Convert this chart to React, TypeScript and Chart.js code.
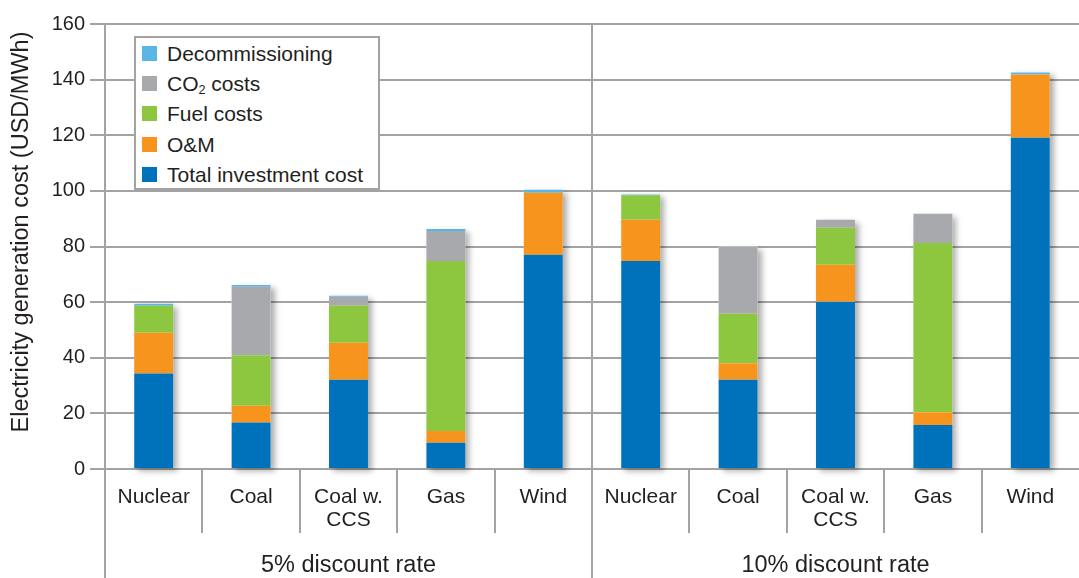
import React, { useEffect, useRef } from 'react';
import { Chart, registerables } from 'chart.js';

Chart.register(...registerables);

// ---- Data ----
const categories: string[][] = [
  ['Nuclear'], ['Coal'], ['Coal w.', 'CCS'], ['Gas'], ['Wind'],
  ['Nuclear'], ['Coal'], ['Coal w.', 'CCS'], ['Gas'], ['Wind'],
];
const groupLabels = ['5% discount rate', '10% discount rate'];
const groupSize = 5;

const investment = [34.3, 16.7, 32.1, 9.4, 77.0, 74.8, 32.1, 60.1, 15.8, 119.1];
const omCosts = [14.7, 6.0, 13.3, 4.3, 22.3, 14.8, 5.9, 13.3, 4.6, 22.7];
const fuelCosts = [9.7, 18.2, 13.3, 61.1, 0, 8.8, 17.8, 13.3, 60.9, 0];
const co2Costs = [0, 24.6, 3.2, 10.8, 0, 0, 24.2, 2.9, 10.5, 0];
const decommissioning = [0.7, 0.7, 0.4, 0.7, 1.1, 0.3, 0, 0, 0, 0.8];

const yMin = 0;
const yMax = 160;
const yStep = 20;
const yTitle = 'Electricity generation cost (USD/MWh)';

// ---- Styles ----
const FONT = '"Liberation Sans", Arial, Helvetica, sans-serif';
const TEXT = '#231f20';
const GRID = '#a3a3a3';
const C_INV = '#0072bc';
const C_OM = '#f7941d';
const C_FUEL = '#8dc63f';
const C_CO2 = '#a7a9ac';
const C_DEC = '#5ab4e5';

const legendItems: { color: string; label: React.ReactNode }[] = [
  { color: C_DEC, label: 'Decommissioning' },
  { color: C_CO2, label: <>CO<sub style={{ fontSize: '0.6em', verticalAlign: '-0.25em', lineHeight: 0 }}>2</sub> costs</> },
  { color: C_FUEL, label: 'Fuel costs' },
  { color: C_OM, label: 'O&M' },
  { color: C_INV, label: 'Total investment cost' },
];

const shadowPlugin = {
  id: 'barShadow',
  beforeDatasetsDraw(chart: any) {
    const ctx = chart.ctx;
    const metas = chart.getSortedVisibleDatasetMetas();
    ctx.save();
    ctx.shadowColor = 'rgba(0,0,0,0.32)';
    ctx.shadowBlur = 6;
    ctx.shadowOffsetX = 4;
    ctx.shadowOffsetY = 3;
    ctx.fillStyle = '#ffffff';
    for (let i = 0; i < categories.length; i++) {
      let top = Infinity;
      let base = -Infinity;
      let x = 0;
      let w = 0;
      metas.forEach((m: any) => {
        const el = m.data[i];
        const v = chart.data.datasets[m.index].data[i];
        if (!el || !v) return;
        top = Math.min(top, el.y, el.base);
        base = Math.max(base, el.y, el.base);
        x = el.x;
        w = el.width;
      });
      if (top < base) ctx.fillRect(x - w / 2, top, w, base - top);
    }
    ctx.restore();
  },
};

const framePlugin = {
  id: 'frame',
  afterDraw(chart: any) {
    const { ctx, chartArea } = chart;
    const x = chart.scales.x;
    const bottom = chart.height;
    const sepLen = 64;
    ctx.save();
    ctx.strokeStyle = GRID;
    ctx.lineWidth = 2;
    const line = (x1: number, y1: number, x2: number, y2: number) => {
      ctx.beginPath();
      ctx.moveTo(x1, y1);
      ctx.lineTo(x2, y2);
      ctx.stroke();
    };
    // y axis line extension
    line(Math.round(chartArea.left), chartArea.top, Math.round(chartArea.left), bottom);
    for (let i = 1; i < categories.length; i++) {
      const bx = Math.round((x.getPixelForValue(i - 1) + x.getPixelForValue(i)) / 2);
      if (i % groupSize === 0) {
        line(bx, chartArea.top, bx, bottom);
      } else {
        line(bx, chartArea.bottom, bx, chartArea.bottom + sepLen);
      }
    }
    ctx.fillStyle = TEXT;
    // group labels
    ctx.font = `23.5px ${FONT}`;
    ctx.textAlign = 'center';
    ctx.textBaseline = 'middle';
    groupLabels.forEach((g, gi) => {
      const cx = (x.getPixelForValue(gi * groupSize) + x.getPixelForValue(gi * groupSize + groupSize - 1)) / 2;
      ctx.fillText(g, cx, 566);
    });
    // y axis title
    ctx.font = `23.5px ${FONT}`;
    ctx.translate(22, 232);
    ctx.rotate(-Math.PI / 2);
    ctx.fillText(yTitle, 0, 0);
    ctx.restore();
  },
};

export default function App() {
  const ref = useRef<HTMLCanvasElement>(null);

  useEffect(() => {
    if (!ref.current) return;
    const chart = new Chart(ref.current, {
      type: 'bar',
      data: {
        labels: categories,
        datasets: [
          { label: 'Total investment cost', data: investment, backgroundColor: C_INV },
          { label: 'O&M', data: omCosts, backgroundColor: C_OM },
          { label: 'Fuel costs', data: fuelCosts, backgroundColor: C_FUEL },
          { label: 'CO2 costs', data: co2Costs, backgroundColor: C_CO2 },
          { label: 'Decommissioning', data: decommissioning, backgroundColor: C_DEC },
        ],
      },
      options: {
        responsive: false,
        animation: false,
        layout: { padding: { top: 24, right: 0, left: 0, bottom: 0 } },
        datasets: {
          bar: { barPercentage: 0.4, categoryPercentage: 1.0, borderWidth: 0 },
        },
        plugins: {
          legend: { display: false },
          tooltip: { enabled: false },
        },
        scales: {
          x: {
            stacked: true,
            grid: { display: false },
            border: { display: false },
            ticks: {
              color: TEXT,
              font: { family: FONT, size: 21, lineHeight: 1.12 },
              padding: 8,
              maxRotation: 0,
              autoSkip: false,
            },
            afterFit: (s: any) => { s.height = 109; },
          },
          y: {
            stacked: true,
            min: yMin,
            max: yMax,
            ticks: {
              stepSize: yStep,
              color: TEXT,
              font: { family: FONT, size: 20 },
              padding: 5,
            },
            grid: { color: GRID, lineWidth: 2, tickLength: 15, drawTicks: true },
            border: { display: true, color: GRID, width: 2 },
            title: { display: false },
            afterFit: (s: any) => { s.width = 105; },
          },
        },
      },
      plugins: [shadowPlugin, framePlugin],
    });
    return () => chart.destroy();
  }, []);

  return (
    <div style={{ position: 'absolute', left: 0, top: 0, width: 1079, height: 578, background: '#fff' }}>
      <canvas ref={ref} width={1079} height={578} style={{ display: 'block' }} />
      <div
        style={{
          position: 'absolute', left: 134, top: 36, width: 246, height: 154,
          boxSizing: 'border-box', border: `2px solid ${GRID}`, background: '#fff',
          fontFamily: FONT, fontSize: 21, color: TEXT, paddingTop: 0,
        }}
      >
        {legendItems.map((it, i) => (
          <div key={i} style={{ display: 'flex', alignItems: 'center', height: 30.3, paddingLeft: 6, overflow: 'visible' }}>
            <span style={{ width: 15, height: 15, background: it.color, display: 'inline-block', marginRight: 10, flex: '0 0 auto' }} />
            <span style={{ lineHeight: '21px', height: 21, display: 'inline-block', whiteSpace: 'nowrap' }}>{it.label}</span>
          </div>
        ))}
      </div>
    </div>
  );
}
